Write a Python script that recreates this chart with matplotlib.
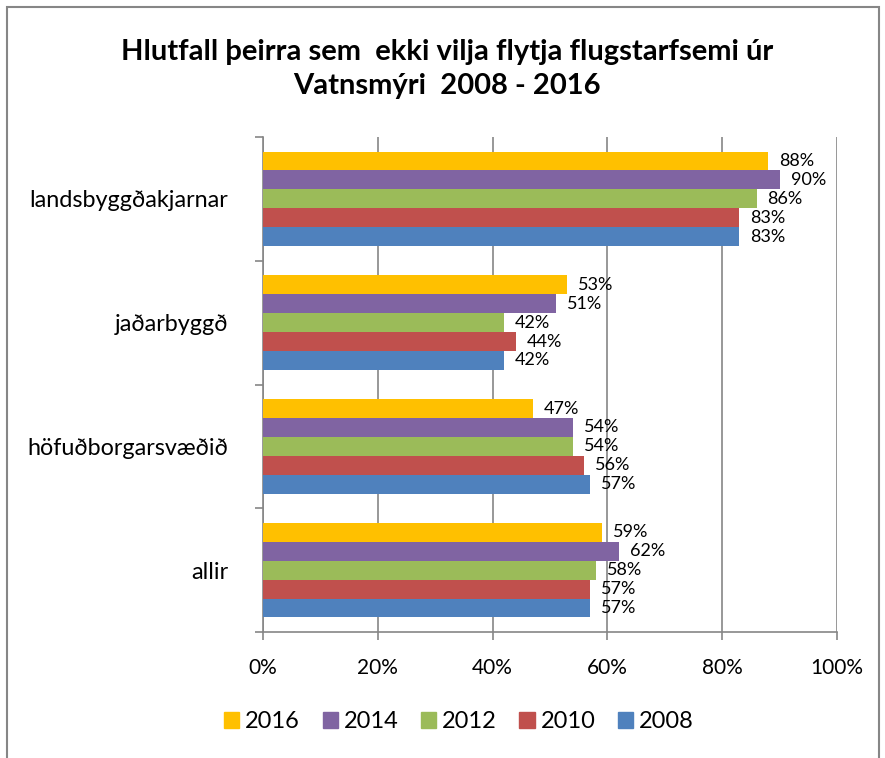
import matplotlib
matplotlib.use("Agg")
import matplotlib.pyplot as plt
import numpy as np
from matplotlib.patches import Rectangle

plt.rcParams['font.family'] = ['Lato', 'DejaVu Sans']

categories = ["allir", "höfuðborgarsvæðið", "jaðarbyggð", "landsbyggðakjarnar"]
years = ["2016", "2014", "2012", "2010", "2008"]
colors = ["#FFC000", "#8064A2", "#9BBB59", "#C0504D", "#4F81BD"]
values = {
    "2016": [59, 47, 53, 88],
    "2014": [62, 54, 51, 90],
    "2012": [58, 54, 42, 86],
    "2010": [57, 56, 44, 83],
    "2008": [57, 57, 42, 83],
}
xticks = [0, 20, 40, 60, 80, 100]
xtick_labels = ["0%", "20%", "40%", "60%", "80%", "100%"]
title = "Hlutfall þeirra sem  ekki vilja flytja flugstarfsemi úr\nVatnsmýri  2008 - 2016"

fig = plt.figure(figsize=(8.85, 7.58), dpi=100)
ax = fig.add_axes([263/885, 1-632/758, (837-263)/885, (632-137)/758])

bh = 0.153
y = np.arange(len(categories))
n = len(years)
for i, yr in enumerate(years):
    offs = (n - 1) / 2 - i
    pos = y + offs * bh
    ax.barh(pos, values[yr], height=bh, color=colors[i], zorder=3)
    for p, v in zip(pos, values[yr]):
        ax.text(v + 1.9, p, f"{v}%", va="center", ha="left", fontsize=13,
                color="black", zorder=4)

ax.set_xlim(0, 100)
ax.set_ylim(-0.5, len(categories) - 0.5)
ax.set_xticks(xticks)
ax.set_xticklabels(xtick_labels, fontsize=15)
ax.set_yticks(y)
ax.set_yticklabels(categories, fontsize=16.8)
ax.set_yticks(np.arange(-0.5, len(categories), 1), minor=True)
ax.tick_params(axis='y', which='major', length=0, pad=25)
ax.tick_params(axis='y', which='minor', length=6, color="#868686", width=1.2)
ax.tick_params(axis='x', length=6, color="#868686", width=1.2, pad=13)
ax.grid(axis='x', color="#868686", linewidth=1.2, zorder=0)
for s in ["top", "right"]:
    ax.spines[s].set_visible(False)
for s in ["left", "bottom"]:
    ax.spines[s].set_color("#868686")
    ax.spines[s].set_linewidth(1.2)

fig.text(0.505, 1 - 69/758, title, ha="center", va="center", fontsize=21,
         fontweight="bold", linespacing=1.35)

handles = [Rectangle((0, 0), 1, 1, color=c) for c in colors]
fig.legend(handles, years, loc="center", bbox_to_anchor=(459/885, 1 - 722/758),
           ncol=5, frameon=False, fontsize=17, handlelength=0.65, handleheight=0.65,
           columnspacing=0.95, handletextpad=0.25, borderpad=0, borderaxespad=0)

fig.patches.append(Rectangle((7/885, -0.01), (879-7)/885, 1 - 7/758 + 0.01,
                             transform=fig.transFigure, fill=False,
                             edgecolor="#868686", linewidth=1.5))

fig.savefig("out.png", dpi=100)
